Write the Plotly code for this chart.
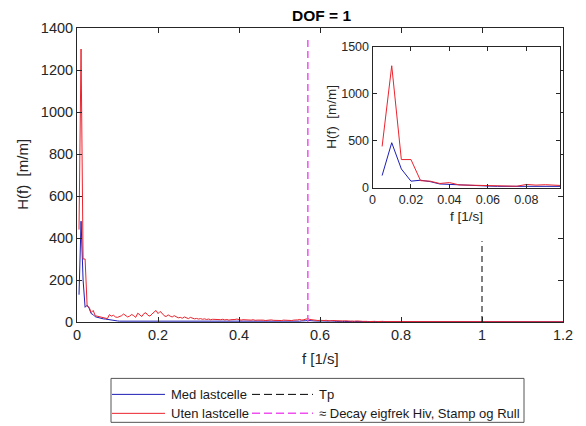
import numpy as np
import plotly.graph_objects as go

# ---------------- data ----------------
df = 0.005  # frequency resolution [1/s]
red_vals = [
    440, 1300, 300, 300, 75, 70, 45, 55, 30, 28, 25, 22, 20, 18, 16, 35, 28, 32, 24, 22,
    26, 30, 38, 32, 24, 28, 36, 30, 22, 42, 35, 26, 40, 44, 32, 28, 38, 45, 55, 40,
    50, 42, 30, 26, 34, 28, 24, 30, 26, 20, 22, 18, 24, 20, 16, 22, 18, 15, 17, 14,
    16, 13, 15, 12, 14, 11, 13, 12, 10, 12, 11, 13, 10, 12, 9, 11, 10, 12, 14, 10,
    9, 11, 10, 8, 10, 9, 11, 8, 9, 10, 8, 9, 7, 9, 8, 10, 8, 7, 9, 8,
    7, 9, 8, 10, 8, 7, 9, 8, 10, 12, 9, 11, 14, 16, 12, 10, 8, 9, 7, 8,
    6, 7, 8, 6, 5, 7, 6, 5, 6, 4, 5, 6, 4, 5, 4, 3, 4, 5, 3, 4,
    3, 4, 3, 2, 3, 4, 3, 2, 3, 2, 3, 2, 2, 3, 2, 2, 1, 2, 2, 1,
    1, 2, 1, 1, 2, 1, 1, 1, 2, 1, 1, 1, 1, 2, 1, 1, 1, 1, 1, 1,
    1, 1, 2, 1, 1, 1, 1, 1, 1, 1, 1, 2, 1, 1, 1, 1, 1, 1, 1, 1,
    1, 1, 1, 1, 1, 1, 2, 1, 1, 1, 1, 1, 1, 1, 1, 1, 1, 1, 1, 1,
    1, 1, 1, 1, 1, 1, 1, 1, 1, 1, 1, 1, 1, 1, 1, 1, 1, 1, 1, 1,
]
blue_vals = [
    130, 480, 200, 70, 80, 65, 40, 35, 25, 22, 20, 18, 15, 14, 12, 10, 9, 8, 6, 5,
    4, 4, 3, 3, 3, 2, 2, 3, 2, 2, 2, 2, 2, 2, 2, 1, 2, 2, 2, 1,
    2, 1, 2, 1, 1, 2, 1, 1, 1, 2, 1, 1, 1, 1, 2, 1, 1, 1, 1, 1,
    1, 1, 1, 2, 1, 1, 1, 1, 1, 1, 2, 1, 1, 1, 1, 1, 1, 2, 1, 1,
    1, 1, 2, 1, 1, 1, 1, 2, 1, 1, 2, 1, 1, 2, 1, 2, 1, 2, 2, 1,
    2, 2, 3, 2, 3, 2, 3, 4, 3, 4, 5, 4, 6, 7, 5, 6, 5, 4, 5, 4,
    5, 4, 3, 4, 5, 3, 4, 3, 4, 3, 3, 2, 3, 3, 2, 3, 2, 2, 3, 2,
    2, 2, 1, 2, 2, 1, 2, 1, 1, 2, 1, 1, 1, 1, 1, 1, 1, 1, 1, 1,
    1, 1, 1, 1, 1, 1, 1, 1, 1, 1, 1, 1, 1, 1, 1, 1, 1, 1, 1, 1,
    1, 1, 1, 1, 1, 1, 1, 1, 1, 1, 1, 1, 1, 1, 1, 1, 1, 1, 1, 1,
    1, 1, 1, 1, 1, 1, 1, 1, 1, 1, 1, 1, 1, 1, 1, 1, 1, 1, 1, 1,
    1, 1, 1, 1, 1, 1, 1, 1, 1, 1, 1, 1, 1, 1, 1, 1, 1, 1, 1, 1,
]
freq = [df * (i + 1) for i in range(len(red_vals))]

tp_freq = 1.0
tp_top = 385
decay_freq = 0.57
decay_top = 1345

labels = ["Med lastcelle", "Uten lastcelle", "Tp", "\u2248 Decay eigfrek Hiv, Stamp og Rull"]
main_xticks = [0, 0.2, 0.4, 0.6, 0.8, 1, 1.2]
main_yticks = [0, 200, 400, 600, 800, 1000, 1200, 1400]
inset_xticks = [0, 0.02, 0.04, 0.06, 0.08]
inset_yticks = [0, 500, 1000, 1500]

# ---------------- style ----------------
W, H = 586, 426
L, R, T, B = 77, 563, 28, 322.5
BLUE = "rgb(30,30,180)"
RED = "rgb(235,35,45)"
MAG = "rgb(240,80,240)"
AX = "#262626"
FONT = "Liberation Sans, Arial, sans-serif"


def px(x):
    return (x - L) / (R - L)


def py(y):
    return (B - y) / (B - T)


fig = go.Figure()
# main axes traces
fig.add_trace(go.Scatter(x=freq, y=blue_vals, mode="lines", line=dict(color=BLUE, width=1),
                         name=labels[0], showlegend=False, xaxis="x", yaxis="y"))
fig.add_trace(go.Scatter(x=freq, y=red_vals, mode="lines", line=dict(color=RED, width=1),
                         name=labels[1], showlegend=False, xaxis="x", yaxis="y"))
fig.add_trace(go.Scatter(x=[tp_freq, tp_freq], y=[0, tp_top], mode="lines",
                         line=dict(color="black", width=1, dash="6px,4px"),
                         name=labels[2], showlegend=False, xaxis="x", yaxis="y"))
fig.add_trace(go.Scatter(x=[decay_freq, decay_freq], y=[0, decay_top], mode="lines",
                         line=dict(color=MAG, width=1.5, dash="7px,4px"),
                         name=labels[3], showlegend=False, xaxis="x", yaxis="y"))
# inset traces
fig.add_trace(go.Scatter(x=freq, y=blue_vals, mode="lines", line=dict(color=BLUE, width=1),
                         showlegend=False, xaxis="x2", yaxis="y2"))
fig.add_trace(go.Scatter(x=freq, y=red_vals, mode="lines", line=dict(color=RED, width=1),
                         showlegend=False, xaxis="x2", yaxis="y2"))

axis_common = dict(showline=True, linecolor=AX, linewidth=1, mirror="ticks", ticks="inside",
                   tickcolor=AX, showgrid=False, zeroline=False)

fig.update_layout(
    width=W, height=H,
    margin=dict(l=L, r=W - R, t=T, b=H - B, pad=0),
    paper_bgcolor="white", plot_bgcolor="white",
    showlegend=False,
    font=dict(family=FONT, color=AX),
    xaxis=dict(range=[0, 1.2], tickvals=main_xticks, ticktext=[f"{v:g}" for v in main_xticks],
               ticklen=5, tickfont=dict(size=14.5, color=AX), domain=[0, 1], **axis_common),
    yaxis=dict(range=[0, 1400], tickvals=main_yticks, ticktext=[f"{v:g}" for v in main_yticks],
               ticklen=5, tickfont=dict(size=14.5, color=AX), domain=[0, 1], **axis_common),
    xaxis2=dict(range=[0, 0.0975], tickvals=inset_xticks, ticktext=[f"{v:g}" for v in inset_xticks],
                ticklen=4, tickfont=dict(size=12.5, color=AX), anchor="y2",
                domain=[px(372.5), px(560)], **axis_common),
    yaxis2=dict(range=[0, 1500], tickvals=inset_yticks, ticktext=[f"{v:g}" for v in inset_yticks],
                ticklen=4, tickfont=dict(size=12.5, color=AX), anchor="x2",
                domain=[py(188), py(47)], **axis_common),
)

ann = []
# title
ann.append(dict(text="<b>DOF = 1</b>", x=px(321), y=py(15), xref="paper", yref="paper",
                showarrow=False, font=dict(size=15.5, color="black"), xanchor="center", yanchor="middle"))
# axis titles main
ann.append(dict(text="f [1/s]", x=px(320), y=py(359), xref="paper", yref="paper",
                showarrow=False, font=dict(size=15, color=AX), xanchor="center", yanchor="middle"))
ann.append(dict(text="H(f)  [m/m]", x=px(23), y=py(175), xref="paper", yref="paper", textangle=-90,
                showarrow=False, font=dict(size=15, color=AX), xanchor="center", yanchor="middle"))
# axis titles inset
ann.append(dict(text="f [1/s]", x=px(466), y=py(217), xref="paper", yref="paper",
                showarrow=False, font=dict(size=13.5, color=AX), xanchor="center", yanchor="middle"))
ann.append(dict(text="H(f)  [m/m]", x=px(332), y=py(117), xref="paper", yref="paper", textangle=-90,
                showarrow=False, font=dict(size=13.5, color=AX), xanchor="center", yanchor="middle"))

# manual legend
shapes = []
shapes.append(dict(type="rect", xref="paper", yref="paper", x0=px(111), x1=px(524), y0=py(379), y1=py(423),
                   line=dict(color="#555555", width=1), fillcolor="white", layer="above"))
rows = [395, 414]
legend_items = [
    (labels[0], BLUE, "solid", 1, 112, 165, 169, rows[0]),
    (labels[1], RED, "solid", 1, 112, 165, 169, rows[1]),
    (labels[2], "black", "8px,4px", 1, 252, 313, 317, rows[0]),
    (labels[3], MAG, "8px,4px", 1.5, 252, 313, 317, rows[1]),
]
for text, col, dash, w, x0, x1, tx, yy in legend_items:
    shapes.append(dict(type="line", xref="paper", yref="paper", x0=px(x0), x1=px(x1), y0=py(yy), y1=py(yy),
                       line=dict(color=col, width=w, dash=dash), layer="above"))
    ann.append(dict(text=text, x=px(tx), y=py(yy), xref="paper", yref="paper", showarrow=False,
                    font=dict(size=13, color="#1a1a1a"), xanchor="left", yanchor="middle"))

fig.update_layout(annotations=ann, shapes=shapes)
fig.write_html("out.html", config={"displayModeBar": False},
               post_script="document.body.style.margin='0px';document.body.style.overflow='hidden';")
